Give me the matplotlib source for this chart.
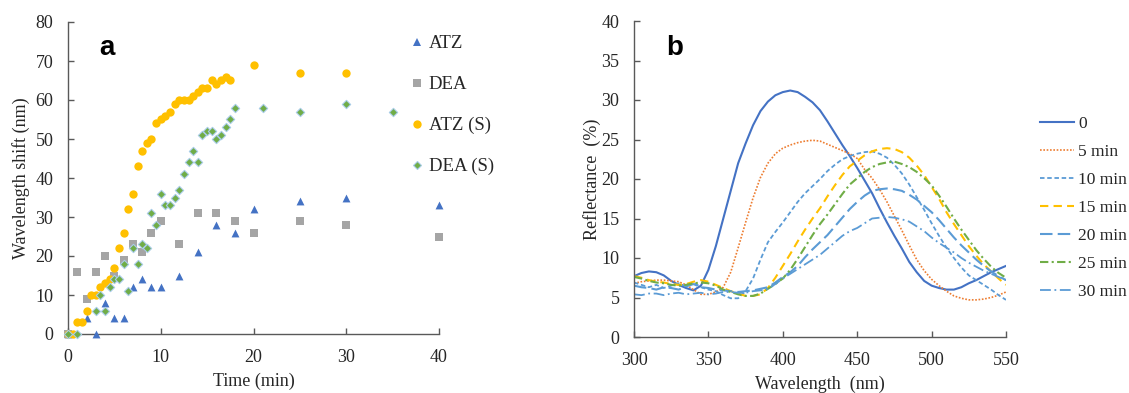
import numpy as np
import matplotlib
matplotlib.use("Agg")
import matplotlib.pyplot as plt
from matplotlib.lines import Line2D

# ---------------- Panel a: wavelength shift vs time ----------------
atz_t = [0, 2, 3, 4, 5, 6, 7, 8, 9, 10, 12, 14, 16, 18, 20, 25, 30, 40]
atz_shift = [0, 4, 0, 8, 4, 4, 12, 14, 12, 12, 15, 21, 28, 26, 32, 34, 35, 33]

dea_t = [0, 1, 2, 3, 4, 5, 6, 7, 8, 9, 10, 12, 14, 16, 18, 20, 25, 30, 40]
dea_shift = [0, 16, 9, 16, 20, 15, 19, 23, 21, 26, 29, 23, 31, 31, 29, 26, 29, 28, 25]

atzs_t = [0, 0.5, 1, 1.5, 2, 2.5, 3, 3.5, 4, 4.5, 5, 5.5, 6, 6.5, 7, 7.5, 8, 8.5,
          9, 9.5, 10, 10.5, 11, 11.5, 12, 12.5, 13, 13.5, 14, 14.5, 15, 15.5,
          16, 16.5, 17, 17.5, 20, 25, 30]
atzs_shift = [0, 0, 3, 3, 6, 10, 10, 12, 13, 14, 17, 22, 26, 32, 36, 43, 47, 49,
              50, 54, 55, 56, 57, 59, 60, 60, 60, 61, 62, 63, 63, 65,
              64, 65, 66, 65, 69, 67, 67]

deas_t = [0, 1, 3, 3.5, 4, 4.5, 5, 5.5, 6, 6.5, 7, 7.5, 8, 8.5, 9, 9.5, 10,
          10.5, 11, 11.5, 12, 12.5, 13, 13.5, 14, 14.5, 15, 15.5, 16, 16.5,
          17, 17.5, 18, 21, 25, 30, 35]
deas_shift = [0, 0, 6, 10, 6, 12, 14, 14, 18, 11, 22, 18, 23, 22, 31, 28, 36,
              33, 33, 35, 37, 41, 44, 47, 44, 51, 52, 52, 50, 51,
              53, 55, 58, 58, 57, 59, 57]

# ---------------- Panel b: reflectance spectra ----------------
wavelength = list(range(300, 551, 5))

r_0 = [7.7, 8.1, 8.3, 8.2, 7.8, 7.1, 6.6, 6.2, 5.9, 6.5, 8.5, 11.5, 15.0, 18.5,
       22.0, 24.5, 26.8, 28.6, 29.8, 30.6, 31.0, 31.2, 31.0, 30.4, 29.7, 28.7,
       27.3, 25.8, 24.3, 22.9, 21.4, 19.8, 18.2, 16.3, 14.5, 12.8, 11.2, 9.5,
       8.2, 7.1, 6.5, 6.2, 6.0, 6.0, 6.3, 6.8, 7.2, 7.7, 8.2, 8.6, 9.0]
r_5 = [6.8, 7.0, 7.1, 7.2, 7.2, 7.1, 7.0, 6.6, 6.0, 5.4, 5.4, 5.7, 6.3, 8.2,
       11.3, 14.5, 17.6, 20.2, 22.0, 23.2, 23.9, 24.3, 24.6, 24.8, 24.9, 24.8,
       24.4, 24.0, 23.6, 23.2, 22.6, 21.2, 20.1, 18.7, 17.1, 15.3, 13.5, 11.6,
       9.8, 8.4, 7.3, 6.5, 5.8, 5.2, 4.9, 4.7, 4.7, 4.8, 5.0, 5.3, 5.7]
r_10 = [6.9, 6.6, 6.3, 6.6, 6.2, 6.5, 6.8, 6.4, 6.9, 6.3, 6.0, 5.8, 5.3, 4.9,
        4.9, 5.8, 7.4, 9.8, 12.0, 13.3, 14.5, 15.8, 17.1, 18.2, 19.1, 20.0,
        21.0, 21.8, 22.5, 22.9, 23.2, 23.4, 23.5, 23.2, 22.7, 21.8, 20.7, 19.3,
        17.7, 16.1, 14.4, 12.8, 11.3, 10.0, 8.8, 7.8, 7.2, 6.6, 6.0, 5.3, 4.7]
r_15 = [7.7, 7.5, 7.2, 7.0, 6.9, 6.7, 6.6, 6.7, 7.0, 7.2, 7.0, 6.6, 6.2, 5.8,
        5.5, 5.2, 5.2, 5.4, 6.2, 7.5, 9.0, 10.5, 12.1, 13.6, 15.0, 16.3, 17.8,
        19.2, 20.5, 21.6, 22.3, 23.0, 23.5, 23.8, 23.9, 23.8, 23.4, 22.7, 21.7,
        20.5, 19.0, 17.5, 15.8, 14.3, 12.9, 11.5, 10.3, 9.2, 8.3, 7.4, 6.6]
r_20 = [6.5, 6.3, 6.2, 6.0, 6.3, 6.2, 6.0, 6.4, 6.7, 6.3, 6.2, 6.0, 5.9, 5.8,
        5.7, 5.8, 5.9, 6.1, 6.3, 6.9, 7.6, 8.2, 9.0, 10.1, 11.1, 12.0, 12.9,
        14.0, 15.1, 16.2, 17.1, 17.9, 18.5, 18.7, 18.8, 18.7, 18.5, 18.0, 17.4,
        16.6, 15.8, 14.8, 13.7, 12.6, 11.6, 10.7, 9.8, 9.0, 8.3, 7.7, 7.2]
r_25 = [7.6, 7.4, 7.1, 6.9, 6.8, 6.6, 6.5, 6.6, 6.8, 6.9, 6.8, 6.5, 6.0, 5.7,
        5.4, 5.2, 5.2, 5.5, 6.1, 6.7, 7.4, 8.5, 9.9, 11.4, 12.9, 14.3, 15.5,
        16.8, 18.1, 19.3, 20.1, 20.9, 21.5, 21.9, 22.1, 22.2, 21.9, 21.5, 20.9,
        20.1, 19.2, 17.9, 16.5, 15.0, 13.6, 12.3, 11.0, 9.9, 8.9, 8.1, 7.5]
r_30 = [5.4, 5.3, 5.5, 5.5, 5.3, 5.5, 5.6, 5.4, 5.5, 5.6, 5.4, 5.5, 5.7, 5.7,
        5.6, 5.6, 5.8, 5.9, 6.1, 6.7, 7.4, 8.0, 8.6, 9.2, 9.8, 10.4, 11.2,
        12.0, 12.8, 13.4, 13.8, 14.4, 15.0, 15.1, 15.2, 15.1, 14.9, 14.6, 14.0,
        13.4, 12.6, 11.9, 11.3, 10.7, 10.0, 9.4, 8.9, 8.4, 8.0, 7.6, 7.2]

spectra_labels = ["0", "5 min", "10 min", "15 min", "20 min", "25 min", "30 min"]

SERIF = "Liberation Serif"
plt.rcParams["font.family"] = SERIF
TXT = "#262626"
SPINE = "#595959"

W, H = 1129, 393
fig = plt.figure(figsize=(W / 100, H / 100), dpi=100)


def style_axes(ax):
    for s in ("top", "right"):
        ax.spines[s].set_visible(False)
    for s in ("left", "bottom"):
        ax.spines[s].set_color(SPINE)
        ax.spines[s].set_linewidth(1.0)
    ax.tick_params(direction="in", length=4, width=1.0, color=SPINE,
                   labelsize=13, labelcolor=TXT, pad=10.5)


# Panel a
ax1 = fig.add_axes([68 / W, 1 - 334 / H, (439 - 68) / W, (334 - 22) / H])
ax1.scatter(atz_t, atz_shift, marker="^", s=32, color="#4472C4", lw=0, zorder=3, clip_on=False)
ax1.scatter(dea_t, dea_shift, marker="s", s=28, color="#A5A5A5", lw=0, zorder=3, clip_on=False)
ax1.scatter(atzs_t, atzs_shift, marker="o", s=36, color="#FFC000", lw=0, zorder=3, clip_on=False)
ax1.scatter(deas_t, deas_shift, marker="D", s=18, color="#70AD47", edgecolor="#A9CCE8",
            lw=0.8, zorder=4, clip_on=False)
ax1.set_xlim(0, 40)
ax1.set_ylim(0, 80)
ax1.set_xticks(range(0, 41, 10))
ax1.set_yticks(range(0, 81, 10))
style_axes(ax1)
ax1.set_xlabel("Time (min)", fontsize=13, color=TXT, labelpad=5)
ax1.set_ylabel("Wavelength shift (nm)", fontsize=13, color=TXT, labelpad=4)
fig.text(107 / W, 1 - 48 / H, "a", fontsize=20, fontweight="bold",
         family="Liberation Sans", ha="center", va="center")

handles_a = [
    Line2D([], [], ls="none", marker="^", ms=6, color="#4472C4", mew=0),
    Line2D([], [], ls="none", marker="s", ms=5.5, color="#A5A5A5", mew=0),
    Line2D([], [], ls="none", marker="o", ms=6, color="#FFC000", mew=0),
    Line2D([], [], ls="none", marker="D", ms=4.5, color="#70AD47", mec="#A9CCE8", mew=0.8),
]
fig.legend(handles_a, ["ATZ", "DEA", "ATZ (S)", "DEA (S)"], loc="upper left",
           bbox_to_anchor=(410 / W, 1 - 35 / H), frameon=False, fontsize=13.5,
           handlelength=0.75, handletextpad=0.25, labelspacing=1.27,
           borderpad=0, borderaxespad=0, labelcolor=TXT)

# Panel b
ax2 = fig.add_axes([634 / W, 1 - 337 / H, (1006 - 634) / W, (337 - 21) / H])
series = [r_0, r_5, r_10, r_15, r_20, r_25, r_30]
colors = ["#4472C4", "#ED7D31", "#5B9BD5", "#FFC000", "#5B9BD5", "#70AD47", "#5B9BD5"]
widths = [1.5, 1.2, 1.3, 1.5, 1.5, 1.5, 1.3]
styles = ["-", (0, (1, 1)), (0, (2.5, 1.5)), (0, (4, 2.5)), (0, (6, 2.5)),
          (0, (4, 1.6, 1, 1.6)), (0, (6, 2, 1, 2))]
for vals, c, lw, ls, lab in zip(series, colors, widths, styles, spectra_labels):
    ax2.plot(wavelength, vals, color=c, lw=lw, ls=ls, label=lab)
ax2.set_xlim(300, 550)
ax2.set_ylim(0, 40)
ax2.set_xticks(range(300, 551, 50))
ax2.set_yticks(range(0, 41, 5))
style_axes(ax2)
ax2.set_xlabel("Wavelength  (nm)", fontsize=13, color=TXT, labelpad=5)
ax2.set_ylabel("Reflectance  (%)", fontsize=13, color=TXT, labelpad=0)
fig.text(675 / W, 1 - 48 / H, "b", fontsize=20, fontweight="bold",
         family="Liberation Sans", ha="center", va="center")

fig.legend(*ax2.get_legend_handles_labels(), loc="upper left",
           bbox_to_anchor=(1040 / W, 1 - 116 / H), frameon=False, fontsize=12.5,
           handlelength=1.95, handletextpad=0.25, labelspacing=0.68,
           borderpad=0, borderaxespad=0, labelcolor=TXT)

fig.savefig("out.png", dpi=100, facecolor="white")
